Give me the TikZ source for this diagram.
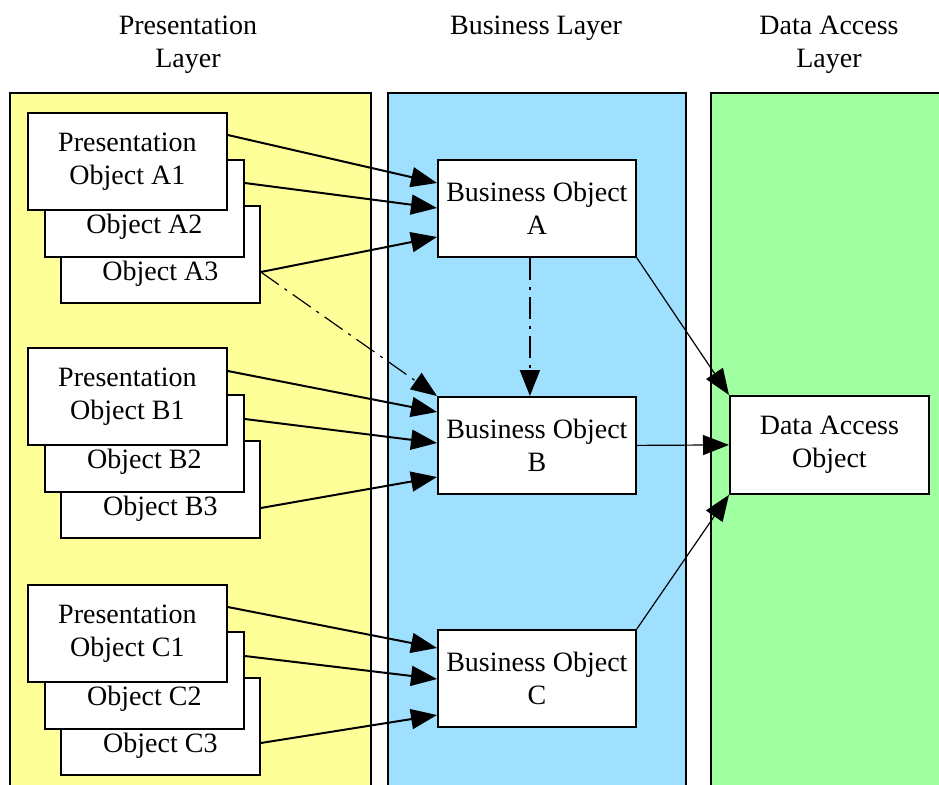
\documentclass[tikz,border=0pt]{standalone}
\usepackage{fontspec}
\setmainfont{Liberation Serif}
\usetikzlibrary{arrows.meta,calc}
\definecolor{layeryellow}{RGB}{255,255,153}
\definecolor{layerblue}{RGB}{160,224,255}
\definecolor{layergreen}{RGB}{160,255,160}

\begin{document}
\begin{tikzpicture}[x=1pt,y=-1pt,
  panel/.style={draw=black,line width=1.8pt},
  objbox/.style={draw=black,fill=white,line width=1.8pt,rectangle,inner sep=0pt,anchor=north west},
  presbox/.style={objbox,minimum width=199pt,minimum height=97pt},
  busbox/.style={objbox,minimum width=198pt,minimum height=97pt},
  lbl/.style={font=\fontsize{28}{33}\selectfont,align=center,inner sep=0pt},
  tip/.style={-{Triangle[length=26pt,width=20pt]}},
  callarrow/.style={tip,line width=2pt},
  dataarrow/.style={tip,line width=1.2pt},
  dashdot/.style={dash pattern=on 22pt off 7pt on 3pt off 7pt}]

\clip (0,0) rectangle (939,784);
\fill[white] (0,0) rectangle (939,784);

% layer panels (open at the bottom, green one open to the right)
\fill[layeryellow] (10,93) rectangle (371,800);
\draw[panel] (10,800) -- (10,93) -- (371,93) -- (371,800);
\fill[layerblue] (388,93) rectangle (686,800);
\draw[panel] (388,800) -- (388,93) -- (686,93) -- (686,800);
\fill[layergreen] (711,93) rectangle (960,800);
\draw[panel] (711,800) -- (711,93) -- (960,93);

% layer headings
\node[lbl] (hPres) at (188,45) {Presentation\\Layer};
\node[lbl] (hBus) at (536,28) {Business Layer};
\node[lbl] (hData) at (829,45) {Data Access\\Layer};

% stacked presentation objects, three groups
\foreach \g/\dy in {A/0,B/235,C/472}{
  \node[presbox] (p\g3) at (60,205+\dy) {};
  \node[lbl] (t\g3) at ($(p\g3.north)+(0,69)$) {Object \g3};
  \node[presbox] (p\g2) at (44,159+\dy) {};
  \node[lbl] (t\g2) at ($(p\g2.north)+(0,68)$) {Object \g2};
  \node[presbox,lbl,inner sep=0pt] (p\g1) at (27,112+\dy) {Presentation\\Object \g1};
}

% business objects
\node[busbox,lbl] (bA) at (437,159) {Business Object\\A};
\node[busbox,lbl] (bB) at (437,396) {Business Object\\B};
\node[busbox,lbl] (bC) at (437,629) {Business Object\\C};

% data access object
\node[objbox,lbl,minimum width=199pt,minimum height=98pt] (dao) at (729,395) {Data Access\\Object};

% presentation -> business calls
\draw[callarrow] ($(pA1.north east)+(0,23)$) -- ($(bA.north west)+(0,24)$);
\draw[callarrow] ($(pA2.north east)+(0,24)$) -- ($(bA.north west)+(0,49)$);
\draw[callarrow] ($(pA3.north east)+(0,67)$) -- ($(bA.north west)+(0,78)$);

\draw[callarrow] ($(pB1.north east)+(0,24)$) -- ($(bB.north west)+(0,16)$);
\draw[callarrow] ($(pB2.north east)+(0,25)$) -- ($(bB.north west)+(0,47)$);
\draw[callarrow] ($(pB3.north east)+(0,68)$) -- ($(bB.north west)+(0,81)$);

\draw[callarrow] ($(pC1.north east)+(0,23)$) -- ($(bC.north west)+(0,19)$);
\draw[callarrow] ($(pC2.north east)+(0,25)$) -- ($(bC.north west)+(0,50)$);
\draw[callarrow] ($(pC3.north east)+(0,66)$) -- ($(bC.north west)+(0,86)$);

% optional dependencies
\draw[dataarrow,dashdot] ($(pA3.north east)+(0,67)$) -- (bB.north west);
\draw[callarrow,dashdot] ($(bA.south)+(-7,0)$) -- ($(bB.north)+(-7,0)$);

% business -> data access
\draw[dataarrow] (bA.south east) -- (dao.north west);
\draw[dataarrow] (bB.east) -- (dao.west);
\draw[dataarrow] (bC.north east) -- (dao.south west);
\end{tikzpicture}
\end{document}
